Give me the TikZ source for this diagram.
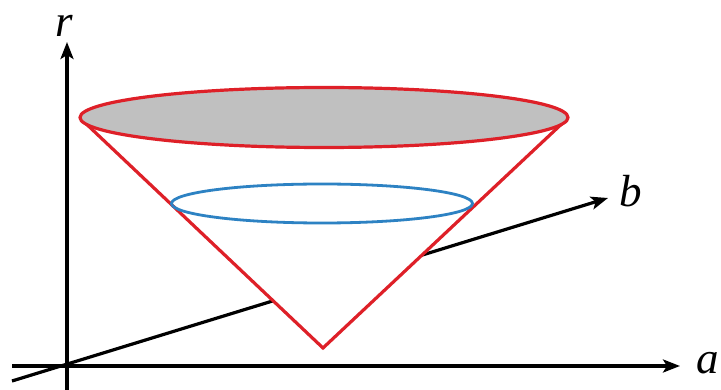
\documentclass[tikz,border=0pt]{standalone}
\usepackage{fontspec}
\setmainfont{Liberation Serif}
\usetikzlibrary{arrows.meta}
\definecolor{conered}{RGB}{222,32,40}
\definecolor{ringblue}{RGB}{45,130,195}
\definecolor{topgray}{RGB}{192,192,192}
\begin{document}
\begin{tikzpicture}[x=1pt,y=-1pt,
  axis/.style={line width=3.2pt,-{Stealth[length=17pt,width=13pt,inset=4pt]}},
  cone/.style={draw=conered,line width=3.2pt,line join=miter},
  lbl/.style={font=\fontsize{45}{45}\selectfont\itshape,inner sep=0pt}]
\useasboundingbox (0,0) rectangle (721,390);
% axes
\coordinate (rs) at (67,392);
\coordinate (re) at (67,42);
\coordinate (as) at (12,366);
\coordinate (ae) at (680,366);
\coordinate (bs) at (12,381);
\coordinate (be) at (608,198);
\draw[axis] (rs) -- (re);
\draw[axis] (as) -- (ae);
\draw[axis] (bs) -- (be);
% cone
\coordinate (L) at (80,118);
\coordinate (R) at (568,118);
\coordinate (apex) at (323,348);
\fill[white] (L) -- (apex) -- (R) -- cycle;
\draw[cone] (L) -- (apex) -- (R);
\draw[cone,fill=topgray] (324,117.5) ellipse [x radius=244, y radius=30];
\draw[draw=ringblue,line width=2.8pt] (322,203.5) ellipse [x radius=150.5, y radius=19.5];
% labels
\node[lbl] (rl) at (64,26) {r};
\node[lbl] (bl) at (631,191) {b};
\node[lbl] (al) at (708,363) {a};
\end{tikzpicture}
\end{document}
